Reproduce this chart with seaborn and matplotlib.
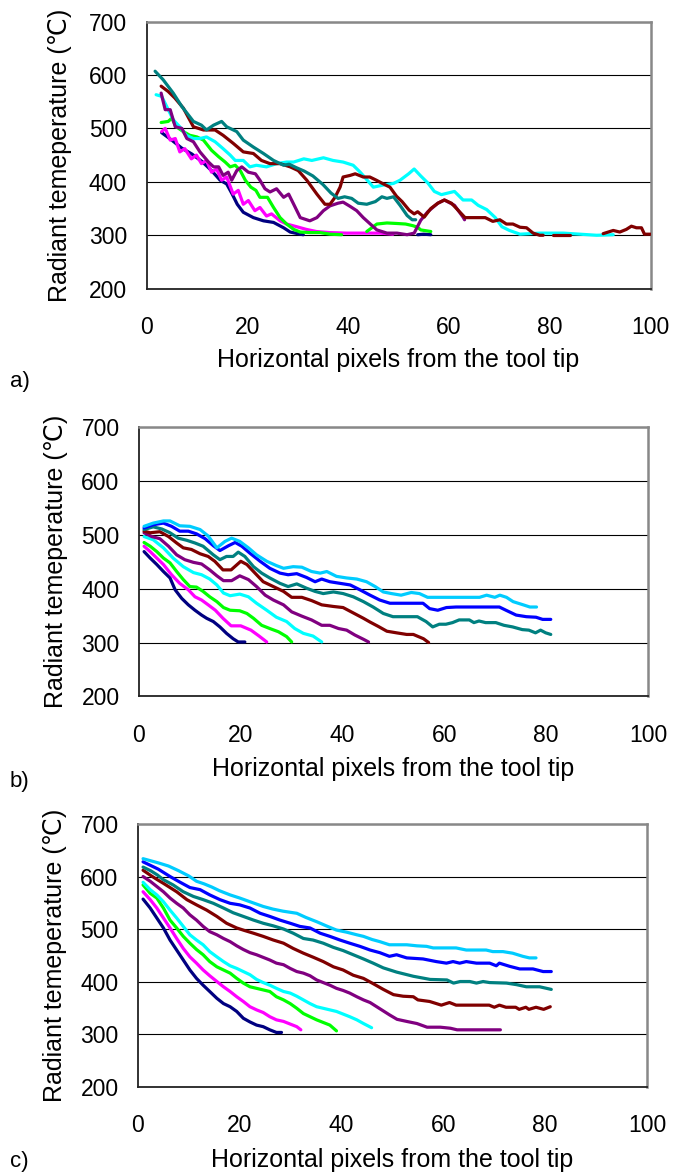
import numpy as np
import pandas as pd
import matplotlib
matplotlib.use("Agg")
import matplotlib.pyplot as plt
import seaborn as sns

# ---------------- data (x = horizontal pixels, y = radiant temperature) -------------
# None marks a gap in a series
a_navy = [(3,492),(5,478),(7,463),(9,452),(11,438),(13,420),(14.6,403),(15.9,396),(17,377),(18,358),(19.2,343),(21.2,333),(23.2,327),(25.2,324),(27.2,314),(28.5,306),(30.5,302),(31.1,301), None, (53.8,301),(55,302),(56.4,301)]
a_magenta = [(3,494),(3.7,500),(4.7,478),(5.7,481),(6.6,456),(7.6,462),(8.9,443),(9.9,450),(10.9,434),(11.9,440),(12.9,418),(13.9,424),(14.9,403),(15.9,409),(17.2,377),(18.2,384),(19.2,358),(20.2,365),(21.5,346),(22.5,352),(23.8,336),(24.8,340),(26.5,327),(27.8,321),(29.8,316),(31.7,311),(33.7,307),(36.4,305),(39.7,304),(43,304),(46.3,304),(48.9,302)]
a_lime = [(2.9,511),(4.3,513),(5,519),(5.9,503),(7.3,494),(8.6,487),(10,484),(11.3,478),(12.9,459),(14.3,447),(15.6,437),(16.6,428),(17.6,431),(18.6,421),(19.6,403),(20.7,390),(21.7,384),(22.5,371),(24,371),(25.2,352),(26.5,333),(27.8,321),(29.2,311),(30.5,306),(32.5,305),(34.4,305),(36.4,302),(38.7,301), None, (43.7,307),(45.7,321),(47.7,323),(49.7,322),(51.4,321),(52.8,318),(53.8,315),(54.4,310),(56.4,307)]
a_cyan = [(1.9,563),(3,560),(4,541),(5.3,516),(6.6,503),(7.9,487),(9.3,481),(10.6,481),(11.9,484),(13.6,475),(15.2,462),(16.6,450),(17.6,440),(19.2,440),(20.5,428),(21.8,431),(23.8,428),(25.8,434),(27.8,437),(29.2,437),(31.2,443),(32.8,440),(35.1,445),(37,440),(39,437),(41,431),(42.4,418),(43.8,403),(45,390),(47,394),(49,397),(50.3,403),(52,415),(53.1,424),(54.4,411),(55.8,398),(57.1,382),(58.5,376),(61.1,382),(62.8,366),(64.5,366),(65.8,356),(67.5,348),(69.2,333),(70.5,316),(72,309),(74.1,302),(78,304),(82.7,304),(86,302),(89.3,300),(92.6,301)]
a_purple = [(2.9,566),(3.7,535),(4.7,535),(5.7,503),(7,500),(8,481),(9.3,475),(10.6,456),(12.3,437),(13.3,428),(14.3,428),(15.2,412),(16.2,418),(16.9,403),(17.9,421),(18.9,428),(20.2,418),(21.6,415),(22.5,403),(23.5,387),(24.5,381),(25.8,387),(27.2,371),(28.2,377),(29.2,358),(30.5,333),(32.4,327),(33.8,333),(35.1,346),(36.4,355),(38,360),(39,362),(40.4,354),(41.7,346),(43,333),(44.4,321),(45.7,310),(47.7,304),(49.7,304),(51.7,301),(53.1,304),(54.4,328),(55.8,344),(57.8,360),(59.1,366),(61.1,356),(62.8,334),(63.1,329)]
a_maroon = [(2.9,579),(4.3,569),(5.6,557),(7.3,538),(9.3,503),(11.3,497),(13.6,497),(15.2,487),(17.2,472),(19.2,456),(21.2,453),(22.8,440),(24.5,434),(26.5,434),(28.5,428),(30.1,421),(31.8,403),(33.8,377),(35.4,358),(36.4,358),(37.4,371),(38.4,390),(39,409),(40.4,412),(41.4,415),(43,409),(44.3,409),(45.6,403),(47,396),(48.3,390),(49.6,373),(50.7,363),(52.1,347),(53.1,340),(53.8,344),(55.1,334),(56.4,350),(57.8,360),(59.1,366),(60.5,360),(61.8,347),(63.2,333),(65.2,333),(67.2,333),(68.7,326),(70.1,329),(71.4,321),(72.7,321),(74.1,315),(75.4,314),(76.7,304),(78,300),(78.7,300), None, (80.7,300),(84,300), None, (90.6,303),(92.6,309),(93.9,306),(95.2,311),(96.2,317),(97.2,314),(98.2,314),(98.8,302),(100,302)]
a_teal = [(1.7,607),(3.3,591),(5.3,566),(7,541),(9.3,513),(10.9,506),(11.9,497),(13.3,506),(14.9,513),(15.9,503),(17.9,494),(19.2,478),(21.2,465),(23.2,453),(25.2,440),(27.2,431),(28.3,433),(29.6,427),(31.3,420),(33,411),(35,395),(36.6,379),(38,369),(39.3,372),(40.7,369),(42,360),(43.7,358),(45.4,363),(46.7,372),(47.7,369),(49,372),(50.3,356),(51.7,337),(52.7,329),(53.4,329)]

b_navy = [(1,469),(2.2,457),(3.5,445),(4.8,432),(6.1,420),(7.1,398),(8.4,382),(9.7,370),(11,360),(12.3,351),(13.3,345),(14.6,339),(15.9,329),(17.2,317),(18.5,307),(19.5,301),(20.8,301)]
b_magenta = [(1,479),(2.2,469),(3.5,457),(4.8,445),(6.4,426),(8,410),(9.7,398),(11,385),(12.3,379),(13.6,370),(15,360),(16.5,345),(18.1,331),(20,331),(22,323),(23.6,312),(25.1,301)]
b_lime = [(1,486),(2.2,479),(3.5,469),(4.8,457),(6.1,448),(7.4,432),(8.7,417),(10,404),(11.3,403),(12.6,395),(13.9,385),(15.3,376),(16.6,365),(17.9,360),(19.8,359),(21.2,354),(22.5,345),(24.1,332),(25.7,326),(27.4,320),(29,311),(30,301)]
b_cyan = [(1,497),(2.8,491),(4.8,476),(6.7,457),(8.7,441),(10.7,430),(12.3,426),(13.9,418),(15.3,407),(16.6,392),(17.9,387),(19.8,390),(21.5,385),(23.1,373),(25.1,360),(27,347),(29,339),(30.6,326),(32.3,317),(34.2,312),(35.9,301)]
b_purple = [(1,504),(2.5,497),(4.1,493),(5.8,479),(7.4,463),(9,454),(10.7,449),(12.3,446),(13.9,435),(15.3,424),(16.6,415),(18.2,415),(19.8,424),(21.5,417),(23.1,404),(24.8,388),(26.4,379),(28.4,370),(30,357),(32,349),(33.9,342),(35.9,332),(37.5,332),(39.2,326),(40.8,323),(42.4,314),(44.1,306),(45.1,301)]
b_maroon = [(1,507),(2.2,504),(4.1,506),(5.8,497),(7.4,485),(8.7,476),(10.3,473),(12,465),(13.6,460),(14.9,451),(16.5,435),(18.1,435),(20,451),(21.2,445),(22.8,429),(24.4,413),(26.4,404),(28.4,395),(30,384),(32,384),(33.9,378),(35.9,370),(38.2,367),(40.1,365),(42.1,355),(44.1,345),(45.4,338),(47,330),(48.7,321),(50.6,318),(52.6,315),(53.9,315),(55.9,307),(56.9,300)]
b_teal = [(1,510),(2.8,515),(4.5,511),(6.1,504),(7.7,494),(9.4,490),(11,485),(12.6,479),(14.6,463),(15.9,454),(17.2,460),(18.5,460),(19.5,468),(20.8,460),(22.5,441),(24.1,429),(25.7,420),(27.7,410),(29.3,404),(31,409),(32.9,401),(34.6,395),(36.2,391),(38.2,394),(40.1,391),(42.1,385),(44.1,376),(46,366),(48,354),(49.9,348),(52.5,348),(54.7,348),(56.4,339),(57.7,329),(59,334),(60.3,334),(61.6,337),(62.9,342),(64.9,342),(65.8,337),(66.8,340),(68.1,337),(70.1,337),(71.7,332),(73.4,329),(75.3,324),(76.6,323),(77.9,318),(78.9,323),(79.9,318),(80.9,315)]
b_blue = [(1,513),(2.8,519),(4.8,522),(6.4,516),(8,507),(9.7,507),(11.3,502),(13,493),(14.6,480),(15.9,471),(17.6,480),(18.9,486),(20.2,479),(21.8,466),(23.8,451),(25.7,438),(27.7,429),(29.3,426),(31,428),(32.9,421),(34.6,413),(35.9,418),(37.5,413),(39.5,410),(41.5,407),(43.4,398),(45.4,388),(47.3,379),(49.3,373),(52.5,373),(55.8,373),(57.1,363),(58.7,360),(60.4,365),(62.3,366),(64.9,366),(68.2,366),(70.8,366),(72.1,360),(74.1,351),(76.1,348),(78,347),(79.3,343),(80.9,343)]
b_sky = [(1,516),(2.8,522),(4.8,526),(6.1,526),(8,517),(10,516),(12,510),(13.6,498),(15.3,476),(16.9,488),(18.2,494),(19.8,488),(21.5,476),(23.1,463),(25.1,451),(27,443),(28.4,438),(30.3,441),(32,440),(33.9,432),(35.6,429),(36.9,432),(38.8,423),(40.8,420),(42.8,418),(44.7,413),(46.4,404),(48,394),(49.6,391),(51.5,388),(53.5,393),(55.1,391),(56.7,384),(60.4,384),(64.3,384),(66.9,384),(68.3,388),(69.9,384),(70.9,388),(72.2,384),(73.5,376),(75.5,370),(76.8,366),(78.1,366)]

c_navy = [(1,557),(2.4,540),(3.7,521),(5,502),(6.3,479),(7.6,460),(8.9,441),(10.2,422),(11.5,406),(12.8,393),(14.1,381),(15.5,368),(16.8,358),(18.1,352),(19.4,343),(20.7,330),(22,323),(23.3,317),(24.6,314),(25.9,308),(27.2,303),(28.2,303)]
c_magenta = [(1,571),(2.4,556),(3.7,540),(5,521),(6.3,502),(7.6,482),(8.9,463),(10.2,447),(11.5,435),(12.8,422),(14.1,411),(15.5,400),(16.8,390),(18.1,381),(19.4,371),(20.7,362),(22,352),(23.3,346),(24.6,341),(25.9,333),(27.2,327),(28.6,324),(29.9,319),(31.2,314),(32,308)]
c_lime = [(1,584),(2.4,568),(3.7,559),(5,540),(6.3,517),(7.6,502),(8.9,486),(10.2,473),(11.5,461),(12.8,451),(14.1,438),(15.5,428),(16.8,422),(18.1,416),(19.4,406),(20.7,397),(22,390),(23.3,387),(24.6,384),(25.9,381),(27.2,371),(28.6,365),(29.9,358),(31.2,349),(32.5,339),(33.8,333),(35.1,327),(36.4,322),(37.7,317),(39,306)]
c_cyan = [(1,589),(2.4,575),(3.7,565),(5,552),(6.3,536),(7.6,521),(8.9,505),(10.2,489),(11.5,479),(12.8,470),(14.1,457),(15.5,447),(16.8,438),(18.1,430),(19.4,425),(20.7,419),(22,413),(23.3,404),(24.6,398),(25.9,393),(27.2,387),(28.6,381),(29.9,378),(31.2,372),(32.5,365),(33.8,358),(35.1,352),(36.4,349),(37.7,346),(39,343),(40.3,338),(41.6,333),(43,327),(44.3,320),(45.9,312)]
c_purple = [(1,600),(2.4,591),(3.7,581),(5,571),(6.3,559),(7.6,549),(8.9,540),(10.2,527),(11.5,517),(12.8,505),(14.1,495),(15.5,489),(16.8,482),(18.1,476),(19.4,468),(20.7,461),(22,455),(23.3,451),(24.6,446),(25.9,441),(27.2,435),(28.6,432),(29.9,425),(31.2,419),(32.5,416),(33.8,411),(35.1,403),(36.4,398),(37.7,393),(39,387),(40.3,383),(41.6,378),(43,371),(44.3,365),(45.6,360),(46.9,352),(48.2,344),(49.5,336),(50.9,328),(52.8,324),(54.8,320),(56.8,313),(59.4,313),(61.4,311),(62.7,308),(65.3,308),(68.6,308),(71.2,308)]
c_maroon = [(1,612),(2.5,602),(3.8,594),(5,587),(7.6,571),(9.6,556),(11.5,546),(13.5,536),(15.5,524),(17.4,511),(19.4,502),(21,497),(22.7,492),(24.6,486),(26.6,479),(28.6,473),(30.5,463),(32.5,454),(34.5,446),(36.4,438),(38.4,428),(40.3,422),(42.3,412),(44.3,406),(46.2,396),(48.2,385),(50.2,375),(52.1,372),(54.1,371),(55,365),(57.3,362),(59.6,355),(61.2,360),(62.5,355),(65.8,355),(69,355),(70,351),(71,355),(72.3,351),(74.2,351),(74.9,347),(76.2,351),(76.8,347),(78.2,351),(79.7,347),(81,352)]
c_teal = [(1,618),(2.5,611),(3.8,603),(5,594),(6.9,584),(8.9,571),(10.9,562),(12.8,556),(14.8,549),(16.8,540),(18.7,531),(20.7,524),(22.7,517),(24.6,511),(26.6,506),(28.6,500),(30.5,492),(32.5,482),(34.4,479),(36.4,473),(38.4,465),(40.3,459),(42.3,451),(44.3,443),(46.2,435),(48.2,426),(50.8,418),(54.1,410),(57.4,404),(60.7,403),(62,397),(63.3,400),(65.2,400),(66.5,397),(67.8,400),(69.1,398),(72.4,397),(74.4,394),(76.3,390),(78.9,390),(81.2,385)]
c_blue = [(1,628),(2.5,621),(4,614),(6.3,600),(8.3,589),(10.2,579),(12.2,575),(14.1,565),(16.1,556),(18.1,549),(20,546),(22,540),(24,530),(25.9,524),(27.9,517),(29.9,511),(31.8,505),(33.8,502),(35.8,492),(37.7,486),(39.7,479),(41.6,473),(43.6,467),(45.6,460),(47.5,455),(49.4,448),(50.8,451),(52.8,445),(56,443),(58.6,438),(60.6,435),(61.9,438),(63.2,435),(64.5,438),(66.5,435),(69.1,435),(70.4,430),(71,435),(73,429),(75,424),(77.6,424),(79.6,419),(81.2,419)]
c_sky = [(1,634),(2.5,630),(4,626),(6,620),(8,611),(10,601),(11.5,591),(13,586),(14.5,580),(16,573),(18.1,565),(20,559),(22,552),(24.6,543),(26.5,538),(28.5,534),(31.2,530),(33,522),(35.1,514),(37,506),(39,498),(41,494),(43,489),(44.3,486),(46,480),(47.5,476),(49.4,470),(52.8,470),(54.8,468),(56.7,467),(58,464),(60.6,464),(62.5,464),(64.5,460),(68.4,460),(69.7,457),(71.7,457),(73.6,454),(75.6,448),(76.9,445),(78.2,445)]

series_names = ["navy", "magenta", "lime", "cyan", "purple", "maroon", "teal", "blue", "sky"]
series_colors = ["#000080", "#FF00FF", "#00FF00", "#00FFFF", "#800080", "#800000", "#008080", "#0000FF", "#00CCFF"]

panel_a = {"navy": a_navy, "magenta": a_magenta, "lime": a_lime, "cyan": a_cyan,
           "purple": a_purple, "maroon": a_maroon, "teal": a_teal}
panel_b = {"navy": b_navy, "magenta": b_magenta, "lime": b_lime, "cyan": b_cyan, "purple": b_purple,
           "maroon": b_maroon, "teal": b_teal, "blue": b_blue, "sky": b_sky}
panel_c = {"navy": c_navy, "magenta": c_magenta, "lime": c_lime, "cyan": c_cyan, "purple": c_purple,
           "maroon": c_maroon, "teal": c_teal, "blue": c_blue, "sky": c_sky}

x_ticks = [0, 20, 40, 60, 80, 100]
y_ticks = [200, 300, 400, 500, 600, 700]
x_title = "Horizontal pixels from the tool tip"
y_title = "Radiant temeperature (\u2103)"
panel_tags = ["a)", "b)", "c)"]


def to_frame(panel):
    rows = []
    seg = 0
    for name, pts in panel.items():
        seg += 1
        for p in pts:
            if p is None:
                seg += 1
                continue
            rows.append({"series": name, "seg": seg, "x": p[0], "y": p[1]})
    return pd.DataFrame(rows)


sns.set_style("white")
plt.rcParams["font.family"] = ["Liberation Sans", "DejaVu Sans"]
plt.rcParams["text.color"] = "black"
plt.rcParams["axes.labelcolor"] = "black"
plt.rcParams["xtick.color"] = "black"
plt.rcParams["ytick.color"] = "black"

fig = plt.figure(figsize=(6.74, 11.75), dpi=100)

layout = [
    # axes rect, xlabel y, ylabel x, tag y (fig px)
    ([0.2174, 0.7543, 0.7478, 0.2274], -0.222, -0.172, 382),
    ([0.2062, 0.4074, 0.7552, 0.2289], -0.2245, -0.163, 781),
    ([0.2047, 0.0753, 0.7552, 0.2234], -0.234, -0.163, 1162),
]

palette = dict(zip(series_names, series_colors))

for panel, tag, (rect, xl_y, yl_x, tag_y) in zip([panel_a, panel_b, panel_c], panel_tags, layout):
    ax = fig.add_axes(rect)
    df = to_frame(panel)
    order = [n for n in series_names if n in panel]
    sns.lineplot(data=df, x="x", y="y", hue="series", units="seg", estimator=None,
                 sort=False, hue_order=order, palette=palette, legend=False,
                 linewidth=2.3, ax=ax, zorder=3)
    ax.set_xlim(0, 100)
    ax.set_ylim(200, 700)
    ax.set_xticks(x_ticks)
    ax.set_yticks(y_ticks)
    ax.yaxis.grid(True, color="black", linewidth=0.8, zorder=1)
    ax.xaxis.grid(False)
    ax.set_axisbelow(True)
    for s in ["left", "bottom"]:
        ax.spines[s].set_color("#222222")
        ax.spines[s].set_linewidth(1.3)
    for s in ["top", "right"]:
        ax.spines[s].set_color("#888888")
        ax.spines[s].set_linewidth(1.8)
    ax.tick_params(axis="both", direction="out", length=5, width=1.1, color="#333333",
                   labelsize=16.5, labelcolor="black")
    ax.tick_params(axis="x", pad=15)
    ax.tick_params(axis="y", pad=9)
    ax.set_xlabel(x_title, fontsize=18, color="black")
    ax.set_ylabel(y_title, fontsize=18, color="black")
    ax.xaxis.set_label_coords(0.5, xl_y)
    ax.yaxis.set_label_coords(yl_x, 0.5)
    ax.yaxis.label.set_verticalalignment("center")
    fig.text(10 / 674, 1 - tag_y / 1175, tag, fontsize=16, ha="left", va="center", color="black")

fig.savefig("out.png", dpi=100)
